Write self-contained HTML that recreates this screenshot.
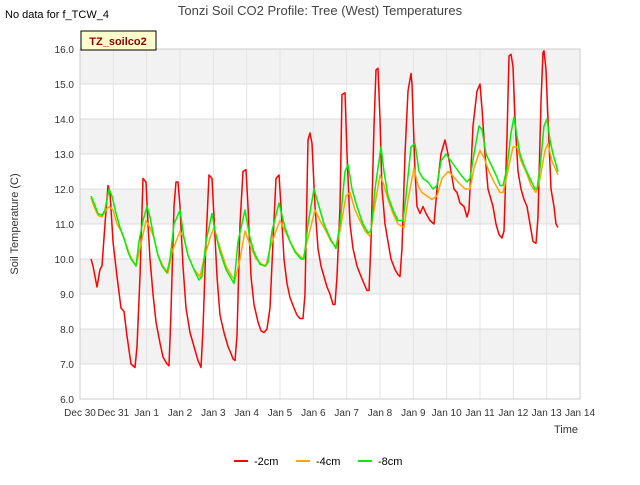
<!DOCTYPE html>
<html><head><meta charset="utf-8"><style>
body{margin:0;background:#fff;font-family:"Liberation Sans",sans-serif}
svg text{font-family:"Liberation Sans",sans-serif}
</style></head><body>
<svg id="chart" width="640" height="480">
<text x="5" y="18" font-size="11" fill="#000">No data for f_TCW_4</text>
<text x="320" y="15" font-size="13" text-anchor="middle" fill="#444">Tonzi Soil CO2 Profile: Tree (West) Temperatures</text>
<g id="plot"></g>
<text x="18" y="224" font-size="11" text-anchor="middle" fill="#333" transform="rotate(-90 18 224)">Soil Temperature (C)</text>
<text x="566" y="433" font-size="11" text-anchor="middle" fill="#333">Time</text>
<g>
<rect x="81" y="31" width="75" height="19" fill="#ffffcc" stroke="#000" stroke-width="1"/>
<text x="118" y="45" font-size="11" font-weight="bold" text-anchor="middle" fill="#8b0000">TZ_soilco2</text>
</g>
<g id="legend"></g>
</svg>
<script>
const yTicks=[6,7,8,9,10,11,12,13,14,15,16];
const xTickLabels=["Dec 30","Dec 31","Jan 1","Jan 2","Jan 3","Jan 4","Jan 5","Jan 6","Jan 7","Jan 8","Jan 9","Jan 10","Jan 11","Jan 12","Jan 13","Jan 14"];
const seriesNames=["-2cm","-4cm","-8cm"];
const redT=[.33,.39,.51,.6,.66,.75,.84,.9,.99,1.11,1.23,1.32,1.41,1.53,1.65,1.71,1.8,1.89,1.98,2.04,2.1,2.19,2.28,2.4,2.49,2.61,2.67,2.73,2.82,2.88,2.94,3.0,3.09,3.18,3.3,3.42,3.54,3.63,3.69,3.78,3.87,3.96,4.02,4.11,4.2,4.32,4.44,4.53,4.59,4.65,4.71,4.8,4.89,4.98,5.04,5.13,5.22,5.34,5.43,5.52,5.61,5.7,5.79,5.88,5.97,6.03,6.12,6.21,6.3,6.42,6.51,6.6,6.69,6.75,6.84,6.9,6.96,7.05,7.14,7.23,7.32,7.41,7.5,7.59,7.65,7.71,7.8,7.86,7.95,8.01,8.1,8.19,8.31,8.43,8.52,8.61,8.67,8.73,8.82,8.88,8.94,9.0,9.06,9.15,9.24,9.33,9.45,9.54,9.6,9.66,9.75,9.84,9.93,9.96,10.05,10.11,10.2,10.29,10.38,10.5,10.62,10.71,10.83,10.95,11.04,11.13,11.22,11.31,11.4,11.52,11.61,11.67,11.79,11.91,12.0,12.06,12.15,12.24,12.3,12.39,12.48,12.57,12.66,12.72,12.81,12.87,12.93,12.99,13.05,13.14,13.23,13.32,13.41,13.5,13.59,13.68,13.74,13.83,13.89,13.92,13.98,14.04,14.13,14.22,14.28,14.34];
const redV=[10.0,9.8,9.2,9.7,9.8,11.0,12.1,11.9,10.5,9.5,8.6,8.5,7.8,7.0,6.9,7.5,9.5,12.3,12.2,11.0,10.0,9.0,8.2,7.6,7.2,7.0,6.95,8.5,11.5,12.2,12.2,11.5,9.8,8.6,7.9,7.5,7.1,6.9,8.0,10.5,12.4,12.3,11.2,9.5,8.4,7.9,7.5,7.3,7.15,7.1,7.8,11.0,12.5,12.55,11.5,9.5,8.7,8.2,7.95,7.9,8.0,8.6,10.5,12.3,12.4,11.5,10.0,9.3,8.9,8.6,8.4,8.3,8.3,9.0,13.4,13.6,13.3,11.5,10.3,9.8,9.5,9.2,9.0,8.7,8.7,9.5,11.5,14.7,14.75,13.0,11.0,10.3,9.8,9.5,9.3,9.1,9.1,10.5,13.8,15.4,15.45,14.0,12.0,11.0,10.5,10.0,9.7,9.55,9.5,10.3,13.0,14.8,15.3,15.0,12.5,11.5,11.3,11.5,11.3,11.1,11.0,12.0,13.0,13.4,13.0,12.5,12.0,11.9,11.6,11.5,11.2,11.4,13.8,14.8,15.0,14.3,13.0,12.0,11.8,11.5,11.0,10.7,10.6,10.8,13.5,15.8,15.85,15.5,14.0,12.5,12.0,11.7,11.5,11.0,10.5,10.45,11.2,14.5,15.9,15.95,15.4,14.0,12.0,11.5,11.0,10.9];
const orangeT=[.33,.42,.54,.66,.78,.87,.99,1.11,1.23,1.35,1.5,1.68,1.8,1.98,2.1,2.22,2.34,2.49,2.64,2.76,3.0,3.12,3.24,3.42,3.6,3.72,3.9,4.02,4.14,4.38,4.56,4.65,4.8,4.95,5.1,5.28,5.46,5.58,5.7,5.88,6.0,6.15,6.3,6.48,6.69,6.84,7.05,7.2,7.38,7.53,7.68,7.8,7.98,8.1,8.25,8.4,8.55,8.7,8.82,9.0,9.12,9.24,9.39,9.54,9.72,9.84,10.02,10.14,10.26,10.41,10.56,10.71,10.86,11.04,11.16,11.34,11.55,11.7,11.82,12.0,12.12,12.27,12.42,12.6,12.69,12.81,12.99,13.11,13.23,13.38,13.53,13.68,13.8,13.95,14.04,14.16,14.34];
const orangeV=[11.75,11.5,11.25,11.2,11.4,11.5,11.4,11.0,10.8,10.5,10.1,9.8,10.3,11.1,10.9,10.6,10.1,9.8,9.6,10.2,10.8,10.6,10.1,9.7,9.5,10.0,10.6,10.9,10.5,9.8,9.5,9.4,10.0,10.8,10.4,10.0,9.85,9.8,10.3,10.8,11.1,10.8,10.5,10.2,10.0,10.6,11.4,11.1,10.8,10.5,10.35,10.8,11.8,11.9,11.4,11.1,10.8,10.65,11.4,12.4,12.1,11.7,11.3,11.0,10.9,11.7,12.6,12.1,11.9,11.8,11.7,11.8,12.3,12.5,12.4,12.2,12.0,12.0,12.6,13.1,12.9,12.5,12.2,11.9,11.9,12.4,13.2,13.2,12.8,12.5,12.1,11.9,12.3,13.1,13.3,12.8,12.4];
const greenT=[.33,.42,.54,.66,.75,.87,.96,1.08,1.2,1.32,1.44,1.53,1.68,1.77,1.89,2.01,2.1,2.22,2.34,2.46,2.61,2.7,2.82,3.0,3.12,3.24,3.42,3.57,3.66,3.78,3.96,4.05,4.2,4.38,4.56,4.62,4.74,4.95,5.1,5.22,5.4,5.55,5.64,5.76,5.97,6.15,6.3,6.45,6.63,6.72,6.84,7.02,7.17,7.32,7.5,7.68,7.8,7.95,8.04,8.16,8.31,8.49,8.64,8.73,8.85,9.03,9.12,9.24,9.39,9.54,9.69,9.78,9.93,10.05,10.17,10.29,10.44,10.59,10.71,10.83,10.98,11.13,11.28,11.43,11.61,11.7,11.82,11.97,12.06,12.18,12.33,12.48,12.6,12.69,12.81,12.93,13.02,13.11,13.2,13.35,13.5,13.65,13.71,13.8,13.92,14.01,14.1,14.19,14.34];
const greenV=[11.8,11.6,11.3,11.25,11.4,12.0,11.8,11.3,10.9,10.6,10.2,10.0,9.8,10.5,11.1,11.5,11.2,10.6,10.1,9.8,9.6,10.0,11.0,11.4,10.6,10.1,9.7,9.4,9.5,10.5,11.3,10.8,10.2,9.7,9.4,9.3,10.5,11.4,10.6,10.2,9.85,9.8,9.9,10.8,11.6,10.9,10.5,10.2,10.0,10.0,11.0,12.0,11.5,11.0,10.6,10.3,11.0,12.5,12.7,12.0,11.5,11.0,10.75,10.8,12.0,13.2,12.5,11.8,11.4,11.1,11.1,11.8,13.2,13.3,12.5,12.3,12.2,12.0,12.1,12.8,13.0,12.8,12.6,12.4,12.2,12.3,13.0,13.8,13.7,13.0,12.7,12.4,12.1,12.1,12.6,13.6,14.05,13.5,13.0,12.6,12.3,12.0,12.0,12.6,13.8,14.0,13.4,13.0,12.5];
const colors=["#ff0000","#ffa500","#00ee00"];
const NS="http://www.w3.org/2000/svg";
const L=80,R=580,T=49,B=399;
const xs=d=>L+(R-L)*d/15;
const ys=v=>B-(B-T)*(v-6)/10;
const plot=document.getElementById('plot');
function mk(tag,attrs,parent){const e=document.createElementNS(NS,tag);for(const k in attrs)e.setAttribute(k,attrs[k]);parent.appendChild(e);return e;}
for(let i=0;i<yTicks.length-1;i++){
  if(i%2===1){const b=mk('rect',{x:L,y:ys(yTicks[i+1]),width:R-L,height:ys(yTicks[i])-ys(yTicks[i+1]),fill:'#f2f2f2'},plot);
  
  }
}
yTicks.forEach(v=>{
  const g=mk('line',{x1:L,x2:R,y1:ys(v),y2:ys(v),stroke:'#dcdcdc'},plot);
  
  
  const t=mk('text',{x:L-6,y:ys(v)+4,'font-size':10,'text-anchor':'end',fill:'#333'},plot);
  t.textContent=v.toFixed(1);
  
  
});
xTickLabels.forEach((lab,i)=>{
  const g=mk('line',{x1:xs(i),x2:xs(i),y1:T,y2:B,stroke:'#e4e4e4'},plot);
  
  
  const t=mk('text',{x:xs(i),y:B+17,'font-size':10,'text-anchor':'middle',fill:'#333'},plot);
  t.textContent=lab;
  
  
});
const ax=mk('rect',{x:L,y:T,width:R-L,height:B-T,fill:'none',stroke:'#ccc'},plot);


const allT=[redT,orangeT,greenT],allV=[redV,orangeV,greenV];
for(let s=0;s<3;s++){
  const d=allT[s].map((t,i)=>(i?'L':'M')+xs(t).toFixed(1)+' '+ys(allV[s][i]).toFixed(1)).join(' ');
  const p=mk('path',{d:d,fill:'none',stroke:colors[s],'stroke-width':1.5,'stroke-linejoin':'round'},plot);
  
  
}
const leg=document.getElementById('legend');
const lx=[234,296,358];
seriesNames.forEach((n,i)=>{
  const l=mk('line',{x1:lx[i],x2:lx[i]+14,y1:461,y2:461,stroke:colors[i],'stroke-width':2},leg);
  
  
  const t=mk('text',{x:lx[i]+20,y:465,'font-size':11,fill:'#000'},leg);
  t.textContent=n;
  
  
});
</script>
</body></html>
